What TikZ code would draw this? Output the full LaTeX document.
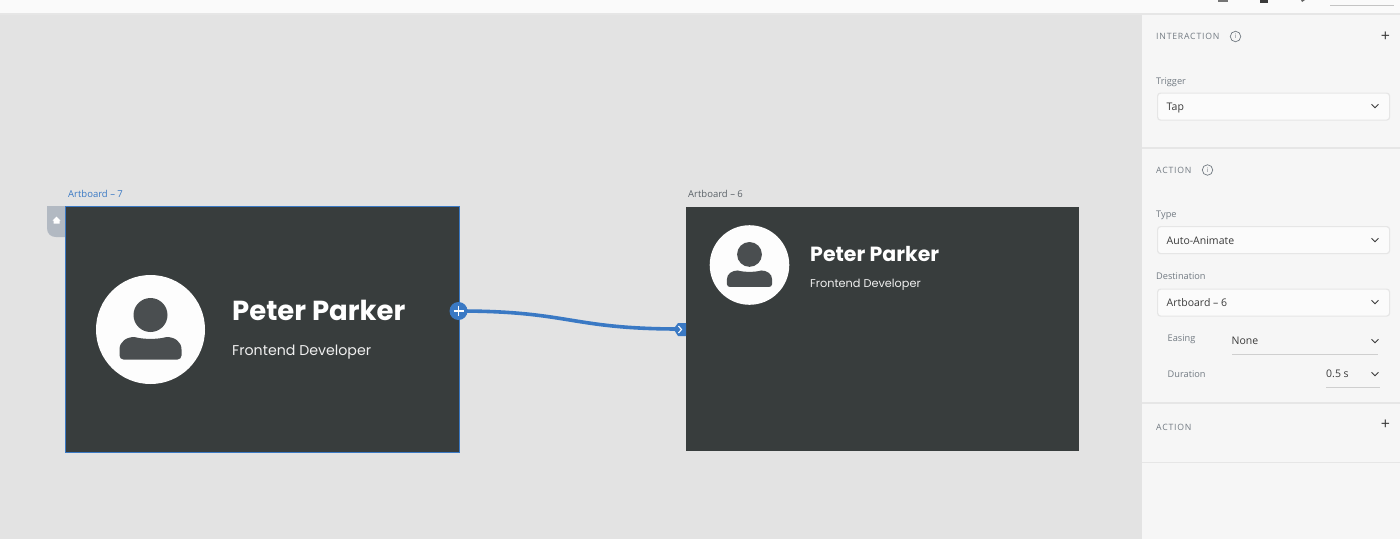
\documentclass[tikz,border=0pt]{standalone}
\usepackage{fontspec}
\setmainfont{Open Sans}
\newfontfamily\pop{Poppins}
\newfontfamily\spaced[LetterSpace=9]{Open Sans}
\definecolor{canvas}{HTML}{E3E3E3}
\definecolor{board}{HTML}{383D3D}
\definecolor{panel}{HTML}{F6F6F6}
\definecolor{sep}{HTML}{E6E6E6}
\definecolor{linkblue}{HTML}{3A79C4}
\definecolor{graytxt}{HTML}{727A82}
\definecolor{darktxt}{HTML}{3A3A3A}
\definecolor{avatar}{HTML}{4A4E50}
\definecolor{hometab}{HTML}{B2B9C2}
\tikzset{
 x=1pt,y=-1pt,
 artboard/.style={draw=none,fill=board,minimum width=#1,anchor=north west,inner sep=0pt},
 ablabel/.style={anchor=west,inner sep=0pt,font=\fontsize{9.5}{11}\selectfont},
 sectionhead/.style={anchor=west,inner sep=0pt,text=graytxt,font=\spaced\fontsize{8.7}{10}\selectfont},
 fieldlabel/.style={anchor=west,inner sep=0pt,text=graytxt,font=\fontsize{9.2}{11}\selectfont},
 fieldval/.style={anchor=west,inner sep=0pt,text=darktxt,font=\fontsize{10.5}{12}\selectfont},
 selectbox/.style={draw=sep,line width=1.2pt,fill=white!60!panel,rounded corners=3pt,minimum width=232pt,minimum height=27pt,anchor=north west,inner sep=0pt},
 chev/.style={draw=darktxt,line width=.9pt},
 rule/.style={draw=sep,line width=1.5pt},
 infoicon/.style={circle,draw=graytxt,line width=.7pt,minimum size=10.5pt,inner sep=0pt,text=graytxt,font=\fontsize{6.5}{7}\selectfont},
 plusmark/.style={inner sep=0pt,text=darktxt,font=\fontsize{16}{16}\selectfont},
}
\newcommand{\chevron}[2]{\draw[chev] (#1-3.5,#2-1.7) -- (#1,#2+1.7) -- (#1+3.5,#2-1.7);}
\newcommand{\person}[3]{% cx, cy, scale
 \begin{scope}[shift={(#1,#2)},scale=#3]
 \fill[white!99!board] (0,0) circle (54.5);
 \fill[avatar] (0,-14.5) circle (17);
 \fill[avatar] (-31,26) -- (-31,20) .. controls (-31,12) and (-24,7.5) .. (-16,7.5) .. controls (-8,10) and (8,10) .. (16,7.5) .. controls (24,7.5) and (31,12) .. (31,20) -- (31,26) .. controls (31,28.5) and (29,30) .. (27,30) -- (-27,30) .. controls (-29,30) and (-31,28.5) .. (-31,26) -- cycle;
 \end{scope}}
\begin{document}
\begin{tikzpicture}
\useasboundingbox (0,0) rectangle (1400,539);
\fill[canvas] (0,0) rectangle (1400,539);
% top bar
\fill[white!50!panel] (0,0) rectangle (1400,13);
\fill[sep] (0,13) rectangle (1400,15);
\fill[darktxt!70] (1218,0) rectangle (1228,1.5);
\fill[darktxt] (1260,0) rectangle (1268,2.5);
\fill[darktxt!80] (1301,0) -- (1305,0) -- (1302,2) -- cycle;
\draw[sep!85!black,line width=.8pt] (1330,5.5) -- (1394,5.5);
% right panel
\fill[panel] (1142,15) rectangle (1400,539);
% home tab
\fill[hometab] (65,206) -- (47,206) -- (47,228) .. controls (47,234) and (51,237) .. (56,237) -- (65,237) -- cycle;
\fill[white] (56.5,216.5) -- (60.5,220.5) -- (59.5,220.5) -- (59.5,223.5) -- (53.5,223.5) -- (53.5,220.5) -- (52.5,220.5) -- cycle;
% artboards
\node[artboard=394pt,minimum height=246pt,draw=linkblue,line width=1pt] (a7) at (65,206) {};
\node[artboard=393pt,minimum height=244pt] (a6) at (686,207) {};
\node[ablabel,text=linkblue] (l7) at (68,193.5) {Artboard – 7};
\node[ablabel,text=graytxt!80!black] (l6) at (688,193.5) {Artboard – 6};
\person{150.5}{329.5}{1}
\person{749.5}{265}{.73}
\node[anchor=west,inner sep=0pt,text=white,font=\pop\fontsize{27.5}{33}\selectfont\bfseries] (n1) at (232,310.5) {Peter Parker};
\node[anchor=west,inner sep=0pt,text=white!92!board,font=\pop\fontsize{14.2}{17}\selectfont] (r1) at (232,352) {Frontend Developer};
\node[anchor=west,inner sep=0pt,text=white,font=\pop\fontsize{20.5}{25}\selectfont\bfseries] (n2) at (810,253.5) {Peter Parker};
\node[anchor=west,inner sep=0pt,text=white!92!board,font=\pop\fontsize{11.3}{14}\selectfont] (r2) at (810,284.5) {Frontend Developer};
% connector
\node[circle,fill=linkblue,minimum size=18pt,inner sep=0pt] (src) at (458.5,311) {};
\coordinate (dst) at (680,329);
\draw[linkblue,line width=3.6pt] (src.center) .. controls (570,311) and (570,329) .. (dst);
\draw[white,line width=1.2pt] (453.5,311) -- (463.5,311) (458.5,306) -- (458.5,316);
\fill[linkblue] (686,323) -- (678,323) -- (673.5,329) -- (678,336) -- (686,336) -- cycle;
\draw[white,line width=1.1pt] (678.5,326) -- (681.5,329.5) -- (678.5,333);
% panel: interaction
\node[sectionhead] (h1) at (1156,36) {INTERACTION};
\node[infoicon] (i1) at (1235.5,36.5) {i};
\node[plusmark] (p1) at (1385.5,37) {+};
\node[fieldlabel] (trig) at (1156,82) {Trigger};
\node[selectbox] (s1) at (1157,92.5) {};
\node[fieldval] (tap) at (1166.5,108) {Tap};
\chevron{1375}{106}
\draw[rule] (1142,148) -- (1400,148);
\node[sectionhead] (h2) at (1156,170) {ACTION};
\node[infoicon] (i2) at (1207.5,170) {i};
\node[fieldlabel] (typ) at (1156,215.5) {Type};
\node[selectbox] (s2) at (1157,226) {};
\node[fieldval] (aa) at (1166.5,241) {Auto-Animate};
\chevron{1375}{240}
\node[fieldlabel] (dest) at (1156,276) {Destination};
\node[selectbox] (s3) at (1157,288.5) {};
\node[fieldval] (ab6) at (1166.5,302.5) {Artboard – 6};
\chevron{1375}{302}
\node[fieldlabel] (eas) at (1167.5,339) {Easing};
\node[fieldval] (non) at (1231.5,340.5) {None};
\chevron{1375}{341}
\draw[draw=sep!90!black,line width=.8pt] (1232,354) -- (1378,354);
\node[fieldlabel] (dur) at (1167.5,374) {Duration};
\node[fieldval] (val) at (1326,373.5) {0.5 s};
\chevron{1375}{374}
\draw[draw=sep!90!black,line width=.8pt] (1326,387) -- (1380,387);
\draw[rule] (1142,403) -- (1400,403);
\node[sectionhead] (h3) at (1156,427.5) {ACTION};
\node[plusmark] (p2) at (1385.5,424.5) {+};
\draw[rule] (1142,462.5) -- (1400,462.5);
\end{tikzpicture}
\end{document}
